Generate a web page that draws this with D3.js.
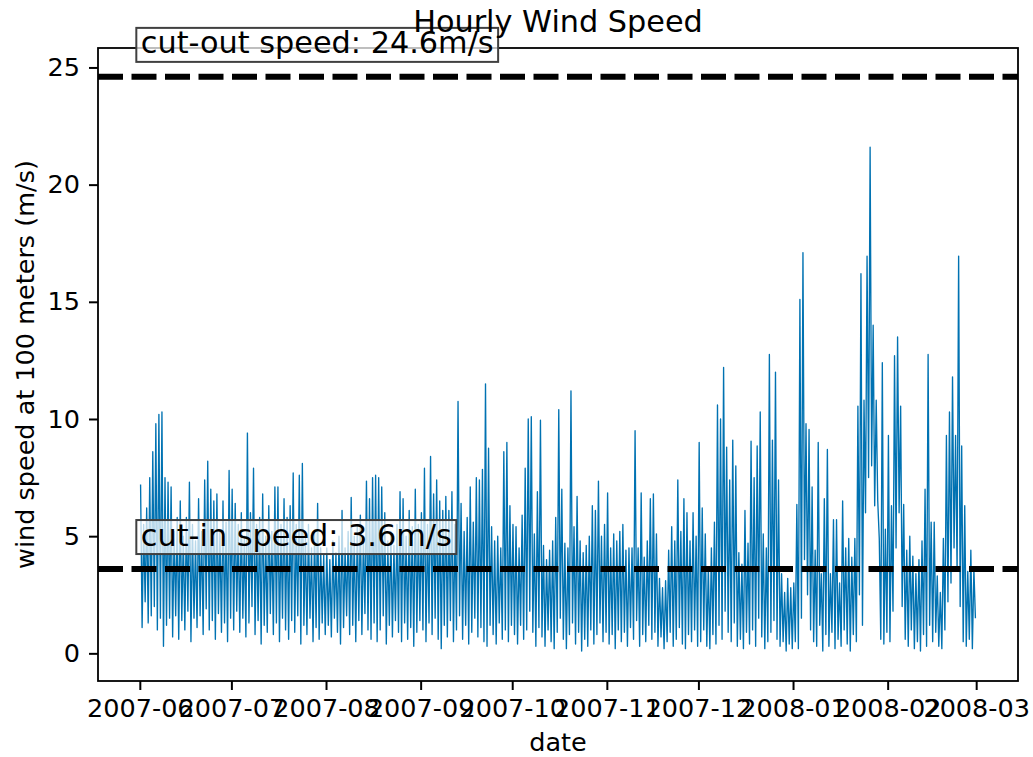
<!DOCTYPE html>
<html>
<head>
<meta charset="utf-8">
<script src="https://cdn.jsdelivr.net/npm/d3@7"></script>
<style>
  html, body { margin: 0; padding: 0; background: #fff; }
  svg { display: block; }
  text { font-family: "DejaVu Sans", sans-serif; fill: #000; }
</style>
</head>
<body>
<svg id="chart" width="1033" height="757"></svg>
<script>
// ---- data: daily high / low of the hourly wind speed (m/s) ----
const jun07High = [7.2,5.5,6.2,7.5,8.6,9.8,10.2,10.3,7.5,7.3, 7.1,5.2,5.8,6.5,5.0,5.8,7.3,5.5,4.8,6.6, 5.2,7.4,8.2,7.0,6.5,6.8,5.2,6.5,5.6,7.8];
const jun07Low  = [1.1,2.2,1.3,1.6,2.0,1.0,1.5,0.3,1.2,1.5, 0.7,1.6,0.6,1.4,1.0,1.8,0.5,1.5,1.1,1.6, 0.8,1.9,1.0,1.4,0.6,1.7,0.9,1.3,0.5,1.5];
const jul07High = [7.0,6.4,5.5,6.0,5.0,9.4,6.0,7.9,5.5,5.8, 6.8,5.0,6.3,5.2,7.1,7.1,5.5,6.6,5.8,6.3, 7.7,5.5,7.6,8.1,5.0,5.5,4.5,5.2,6.4,4.5, 4.2];
const jul07Low  = [1.0,1.8,0.9,1.5,0.7,1.3,2.0,0.8,1.4,0.4, 1.2,0.9,1.7,0.8,1.3,0.5,1.5,1.0,0.6,1.4, 0.9,1.6,0.4,1.2,0.8,1.5,0.5,1.1,0.6,1.3, 0.8];
const aug07High = [4.5,4.0,4.8,4.3,5.0,6.1,4.5,5.2,6.65,5.0, 5.5,5.9,5.0,7.35,6.6,7.5,7.6,7.5,7.1,6.0, 4.8,5.2,4.6,5.5,6.9,6.6,5.0,6.1,5.4,7.0, 5.5];
const aug07Low  = [1.2,0.7,1.5,0.9,0.4,1.1,1.6,0.8,1.2,0.5, 1.4,0.8,1.7,1.0,0.6,1.3,0.5,1.0,1.6,0.4, 1.2,0.7,1.4,0.9,0.5,1.3,0.6,1.1,0.3,0.9, 1.4];
const sep07High = [6.0,7.9,5.5,8.4,6.8,7.4,6.5,6.1,6.7,6.1, 6.9,5.5,10.75,6.4,5.2,5.8,7.1,5.6,7.5,7.4, 7.85,11.5,8.75,5.4,4.8,5.0,4.5,8.6,9.0,6.3];
const sep07Low  = [1.0,0.5,1.3,0.8,1.5,0.6,0.2,1.2,0.7,1.4, 0.5,1.0,1.6,0.6,1.2,0.4,0.9,1.5,0.7,1.1, 0.5,0.3,1.2,0.8,0.4,1.3,0.6,1.0,0.5,1.2];
const oct07High = [5.5,5.4,4.5,5.9,7.9,10.0,10.1,5.1,6.9,9.95, 4.6,4.0,4.4,4.8,5.8,10.4,7.0,4.7,4.5,11.2, 5.4,6.7,4.8,4.3,4.6,5.0,6.3,6.1,7.35,5.0, 5.5];
const oct07Low  = [0.8,0.4,1.2,0.6,1.0,1.8,0.9,0.3,1.1,0.7, 0.3,1.0,0.5,0.2,0.9,1.5,0.6,0.2,0.8,1.3, 0.4,0.9,0.1,0.6,0.3,1.0,0.4,0.8,1.3,0.5, 0.9];
const nov07High = [6.85,4.5,5.1,4.8,5.2,5.5,4.4,4.5,4.5,9.5, 4.5,6.85,4.1,4.8,6.6,6.8,5.1,3.2,2.8,3.1, 4.4,5.4,4.8,7.4,5.2,6.6,6.0,4.8,6.0,5.0];
const nov07Low  = [0.4,0.8,0.2,1.0,0.5,0.9,0.3,1.1,0.6,1.4, 0.3,0.8,0.5,1.2,0.6,0.9,0.3,0.7,0.2,0.5, 0.9,0.3,0.6,1.1,0.4,0.2,0.8,0.5,1.0,0.3];
const dec07High = [9.0,6.2,5.1,3.7,4.5,5.6,10.6,10.0,12.2,8.8, 7.4,9.1,8.0,4.3,3.8,6.1,4.7,9.05,7.5,8.85, 10.3,5.1,4.5,12.75,9.1,12.0,7.4,3.4,2.6,3.2, 2.8];
const dec07Low  = [0.5,1.0,0.3,0.2,0.8,0.4,1.2,0.6,1.8,0.9, 0.5,1.3,0.3,0.6,0.2,0.9,0.4,1.0,0.3,1.5, 0.7,0.2,0.5,0.9,1.4,0.6,0.3,0.5,0.1,0.4, 0.2];
const jan08High = [3.0,6.35,15.1,17.1,9.8,9.55,7.1,4.4,9.0,3.4, 6.6,8.7,3.4,5.7,5.7,3.0,6.5,4.5,4.9,4.1, 4.9,10.55,16.2,10.8,16.95,21.6,14.0,10.8,4.9,12.4, 5.3];
const jan08Low  = [0.5,0.2,1.5,4.0,2.5,1.0,0.5,0.3,1.2,0.1, 0.8,0.3,0.9,0.2,0.6,0.3,1.0,0.4,0.1,0.8, 0.5,2.5,1.2,6.0,7.5,8.0,6.3,6.5,0.6,0.4, 0.9];
const feb08High = [9.3,6.3,12.7,13.5,10.55,6.35,4.4,5.0,4.15,3.4, 4.0,4.8,7.0,12.75,5.6,5.6,3.3,2.6,4.9,9.3, 10.3,11.8,9.3,16.95,8.85,6.3,3.5,4.4,3.6];
const feb08Low  = [0.5,1.8,4.5,6.0,2.0,0.6,0.3,1.0,0.2,0.5, 0.1,0.8,0.3,1.2,0.5,0.9,0.3,0.2,1.0,2.2, 3.0,4.5,3.5,2.0,0.5,0.3,0.6,0.2,1.5];

const monthStarts = ["2007-06-01","2007-07-01","2007-08-01","2007-09-01","2007-10-01","2007-11-01","2007-12-01","2008-01-01","2008-02-01"];
const monthHigh = [jun07High, jul07High, aug07High, sep07High, oct07High, nov07High, dec07High, jan08High, feb08High];
const monthLow  = [jun07Low, jul07Low, aug07Low, sep07Low, oct07Low, nov07Low, dec07Low, jan08Low, feb08Low];
const xTickLabels = ["2007-06","2007-07","2007-08","2007-09","2007-10","2007-11","2007-12","2008-01","2008-02","2008-03"];
const yTicks = [0, 5, 10, 15, 20, 25];
const cutIn = 3.6, cutOut = 24.6;
const titleText = "Hourly Wind Speed";
const xLabelText = "date";
const yLabelText = "wind speed at 100 meters (m/s)";

// ---- build series ----
const HOUR = 3600 * 1000, DAY = 24 * HOUR;
const parse = d3.utcParse("%Y-%m-%d");
const series = [];
monthStarts.forEach((s, m) => {
  const t0 = parse(s).getTime();
  monthHigh[m].forEach((hv, i) => {
    series.push({ t: new Date(t0 + i * DAY + 6 * HOUR), v: hv });
    series.push({ t: new Date(t0 + i * DAY + 18 * HOUR), v: monthLow[m][i] });
  });
});

// ---- layout ----
const svg = d3.select("#chart");
const L = 98, R = 1018, T = 48, B = 681;
const fsTick = 25.5, fsBig = 30.3;

const tStart = parse("2007-06-01").getTime(), tEnd = parse("2008-03-01").getTime();
const marg = 0.05 * (tEnd - tStart);
const x = d3.scaleUtc().domain([new Date(tStart - marg), new Date(tEnd + marg)]).range([L, R]);
const y = d3.scaleLinear().domain([-1.18, 25.83]).range([B, T]);

svg.append("defs").append("clipPath").attr("id", "clip")
  .append("rect").attr("x", L).attr("y", T).attr("width", R - L).attr("height", B - T);

// data line
svg.append("path")
  .datum(series)
  .attr("clip-path", "url(#clip)")
  .attr("fill", "none")
  .attr("stroke", "#0072b2")
  .attr("stroke-width", 1.35)
  .attr("stroke-linejoin", "round")
  .attr("d", d3.line().x(d => x(d.t)).y(d => y(d.v)));

// threshold lines
[cutOut, cutIn].forEach(v => {
  svg.append("line")
    .attr("x1", L).attr("x2", R).attr("y1", y(v)).attr("y2", y(v))
    .attr("stroke", "#000").attr("stroke-width", 6)
    .attr("stroke-dasharray", "25,8.5");
});

// axes
const xTickDates = xTickLabels.map(s => d3.utcParse("%Y-%m")(s));
const xAxis = d3.axisBottom(x).tickValues(xTickDates).tickFormat(d3.utcFormat("%Y-%m")).tickSize(9).tickPadding(9);
const gx = svg.append("g").attr("transform", `translate(0,${B})`).call(xAxis);
gx.select(".domain").remove();
gx.selectAll("line").attr("stroke", "#000").attr("stroke-width", 2);
gx.selectAll("text").attr("font-size", fsTick).attr("font-family", "DejaVu Sans").attr("fill", "#000");

const yAxis = d3.axisLeft(y).tickValues(yTicks).tickFormat(d3.format("d")).tickSize(9).tickPadding(9);
const gy = svg.append("g").attr("transform", `translate(${L},0)`).call(yAxis);
gy.select(".domain").remove();
gy.selectAll("line").attr("stroke", "#000").attr("stroke-width", 2);
gy.selectAll("text").attr("font-size", fsTick).attr("font-family", "DejaVu Sans").attr("fill", "#000");

// spines
svg.append("rect").attr("x", L).attr("y", T).attr("width", R - L).attr("height", B - T)
  .attr("fill", "none").attr("stroke", "#000").attr("stroke-width", 1.8);

// annotations
function annot(v, label) {
  const tx = x(parse("2007-06-01")) + 1;
  const by = y(v + 1);
  const g = svg.append("g");
  const r = g.append("rect");
  const t = g.append("text").attr("x", tx).attr("y", by).attr("font-size", fsBig).text(label);
  const w = t.node().getComputedTextLength();
  r.attr("x", tx - 4.5).attr("y", by - 25.5).attr("width", w + 9).attr("height", 34)
    .attr("fill", "#fff").attr("fill-opacity", 0.72)
    .attr("stroke", "#404040").attr("stroke-width", 2);
}
annot(cutOut, "cut-out speed: " + cutOut + "m/s");
annot(cutIn, "cut-in speed: " + cutIn + "m/s");

// labels
svg.append("text").attr("x", (L + R) / 2).attr("y", 32).attr("text-anchor", "middle")
  .attr("font-size", fsBig).text(titleText);
svg.append("text").attr("x", (L + R) / 2).attr("y", 751).attr("text-anchor", "middle")
  .attr("font-size", fsTick).text(xLabelText);
svg.append("text").attr("transform", `translate(34,${(T + B) / 2}) rotate(-90)`)
  .attr("text-anchor", "middle").attr("font-size", fsTick).text(yLabelText);
</script>
</body>
</html>
